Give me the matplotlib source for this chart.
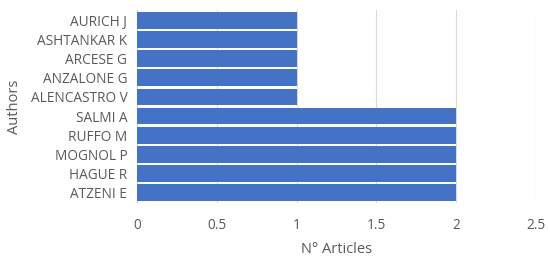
import matplotlib
matplotlib.use("Agg")
import matplotlib.pyplot as plt

authors = ["ATZENI E", "HAGUE R", "MOGNOL P", "RUFFO M", "SALMI A",
           "ALENCASTRO V", "ANZALONE G", "ARCESE G", "ASHTANKAR K", "AURICH J"]
articles = [2, 2, 2, 2, 2, 1, 1, 1, 1, 1]
xticks = [0, 0.5, 1, 1.5, 2, 2.5]
xticklabels = ["0", "0.5", "1", "1.5", "2", "2.5"]

plt.rcParams['font.family'] = ['Open Sans', 'DejaVu Sans']
txt = "#595959"

fig = plt.figure(figsize=(5.5, 2.61), dpi=100)
ax = fig.add_axes([137/550, 1 - 203/261, (536-137)/550, (203-10)/261])
ax.barh(range(len(authors)), articles, height=0.88, color="#4472C4", zorder=3)
ax.set_ylim(-0.55, len(authors) - 0.45)
ax.set_xlim(0, 2.5)
ax.set_xticks(xticks)
ax.set_xticklabels(xticklabels)
ax.set_yticks(range(len(authors)))
ax.set_yticklabels(authors)
ax.tick_params(axis='both', length=0, labelsize=9.8, colors=txt)
ax.tick_params(axis='x', pad=11)
ax.tick_params(axis='y', pad=7)
ax.grid(axis='x', color="#D9D9D9", linewidth=0.8, zorder=0)
for s in ["top", "right", "bottom"]:
    ax.spines[s].set_visible(False)
ax.spines["left"].set_color("#D9D9D9")
ax.set_xlabel("N° Articles", fontsize=10.5, color=txt, labelpad=6)
ax.set_ylabel("Authors", fontsize=10.5, color=txt, labelpad=6)
fig.savefig("out.png", dpi=100)
